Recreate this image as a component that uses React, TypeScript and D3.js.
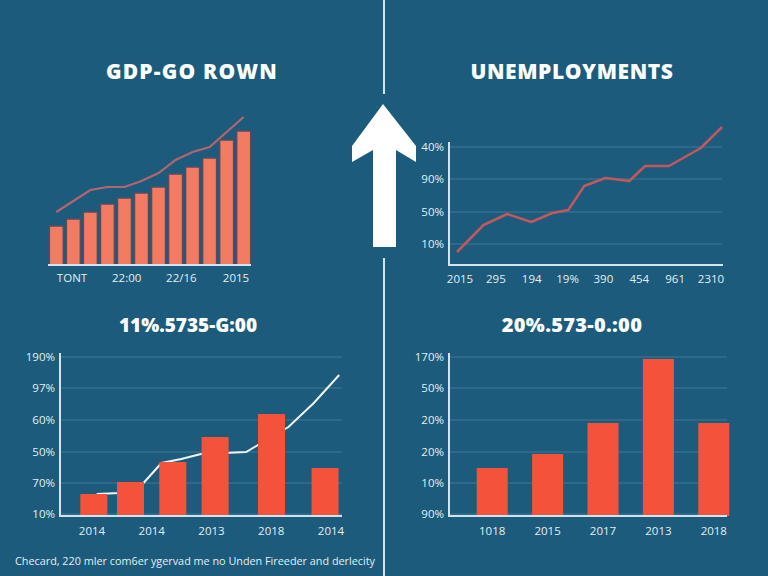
import React from "react";
import * as d3 from "d3";

// GDP panel (top left)
const gdpBars = [39, 46, 53, 61, 67, 72, 78, 91, 98, 107, 125, 134];
const gdpLine = [53, 64, 75, 78, 78, 84, 92, 105, 113, 118, 133, 148];
const gdpLabels = ["TONT", "22:00", "22/16", "2015"];

// Unemployment panel (top right)
const unempT = [0, 10, 19, 28, 36, 42, 48, 56, 65, 71, 80, 86, 92, 100];
const unempV = [13, 40, 51, 43, 52, 55, 79, 87, 84, 99, 99, 108, 117, 138];
const unempTicks = [21, 53, 86, 118];
const unempTickLabels = ["10%", "50%", "90%", "40%"];
const unempLabels = ["2015", "295", "194", "19%", "390", "454", "961", "2310"];

// Bottom left panel
const rateBarT = [12, 25, 40, 55, 75, 94];
const rateBarV = [22, 34, 54, 79, 102, 48];
const rateLineT = [13, 21, 28, 36, 43, 50, 66, 72, 81, 90, 99];
const rateLineV = [22, 23, 28, 53, 57, 62, 64, 74, 89, 113, 141];
const rateLabels = ["2014", "2014", "2013", "2018", "2014"];
const rateTicks = [2, 33, 64, 96, 128, 159];
const rateTickLabels = ["10%", "70%", "50%", "60%", "97%", "190%"];

// Bottom right panel
const rightBarLabels = ["1018", "2015", "2017", "2013", "2018"];
const rightBarV = [48, 62, 93, 157, 93];
const rightTickLabels = ["90%", "10%", "20%", "20%", "50%", "170%"];

const caption =
  "Checard, 220 mler com6er ygervad me no Unden Fireeder and derlecity";

const BG = "#1c5b7b";
const AXIS = "#cfe4ee";
const GRID = "rgba(200,228,240,0.22)";
const TEXT = "#e2eff5";
const FONT = "'Open Sans', 'Liberation Sans', sans-serif";

const Title = ({
  x,
  y,
  text,
  size = 20,
  spacing = 0,
}: {
  x: number;
  y: number;
  text: string;
  size?: number;
  spacing?: number;
}) => (
  <text
    x={x}
    y={y}
    textAnchor="middle"
    fill="#ffffff"
    fontFamily={FONT}
    fontWeight={800}
    fontSize={size}
    letterSpacing={spacing}
  >
    {text}
  </text>
);

const tickStyle = {
  fill: TEXT,
  fontFamily: FONT,
  fontSize: 11.5,
};

export default function App() {
  // --- top left
  const gx = d3
    .scaleBand<number>()
    .domain(d3.range(gdpBars.length))
    .range([49, 251])
    .paddingInner(0.18)
    .paddingOuter(0.02);
  const gy = d3.scaleLinear().domain([0, 150]).range([265, 115]);
  const gLine = d3
    .line<number>()
    .x((_, i) => (gx(i) as number) + gx.bandwidth() / 2)
    .y((d) => gy(d));
  const gLab = d3.scalePoint<string>().domain(gdpLabels).range([72, 236]);

  // --- top right
  const ux = d3.scaleLinear().domain([0, 100]).range([457, 722]);
  const uy = d3.scaleLinear().domain([0, 125]).range([265, 140]);
  const uLine = d3
    .line<number>()
    .x((_, i) => ux(unempT[i]))
    .y((d) => uy(d));
  const uLab = d3.scalePoint<string>().domain(unempLabels).range([460, 711]);

  // --- bottom left
  const rx = d3.scaleLinear().domain([0, 100]).range([60, 342]);
  const ry = d3.scaleLinear().domain([0, 165]).range([516, 351]);
  const rLine = d3
    .line<number>()
    .x((_, i) => rx(rateLineT[i]))
    .y((d) => ry(d));
  const rLab = d3
    .scalePoint<number>()
    .domain(d3.range(rateLabels.length))
    .range([92, 331]);
  const rBarW = 27;

  // --- bottom right
  const bx = d3
    .scaleBand<number>()
    .domain(d3.range(rightBarLabels.length))
    .range([449, 757])
    .paddingInner(0.44)
    .paddingOuter(0.5);

  return (
    <svg
      width={768}
      height={576}
      style={{ position: "fixed", left: 0, top: 0 }}
    >
      <rect width={768} height={576} fill={BG} />

      {/* centre divider and arrow */}
      <line x1={384} x2={384} y1={0} y2={94} stroke={AXIS} strokeWidth={2} />
      <line x1={384} x2={384} y1={258} y2={576} stroke={AXIS} strokeWidth={2} />
      <path
        d="M383,104 L416,146 L416,162 L396,150 L396,247 L373,247 L373,150 L352,162 L352,146 Z"
        fill="#ffffff"
      />

      {/* top left: GDP */}
      <Title x={192} y={79} text="GDP-GO ROWN" size={21} spacing={1.2} />
      {gdpBars.map((v, i) => (
        <rect
          key={i}
          x={gx(i)}
          y={gy(v)}
          width={gx.bandwidth()}
          height={gy(0) - gy(v)}
          fill="#f27b62"
          stroke="#574d5e"
          strokeWidth={1.5}
        />
      ))}
      <path
        d={gLine(gdpLine) || ""}
        fill="none"
        stroke="#b4656f"
        strokeWidth={2.2}
      />
      <line x1={48} x2={251} y1={265} y2={265} stroke={AXIS} strokeWidth={2} />
      {gdpLabels.map((l) => (
        <text key={l} x={gLab(l)} y={282} textAnchor="middle" style={tickStyle}>
          {l}
        </text>
      ))}

      {/* top right: unemployment */}
      <Title x={572} y={79} text="UNEMPLOYMENTS" size={21} spacing={0.6} />
      {unempTicks.map((t, i) => (
        <g key={t}>
          <line x1={449} x2={722} y1={uy(t)} y2={uy(t)} stroke={GRID} />
          <text x={444} y={uy(t) + 4} textAnchor="end" style={tickStyle}>
            {unempTickLabels[i]}
          </text>
        </g>
      ))}
      <line x1={449} x2={449} y1={142} y2={266} stroke={AXIS} strokeWidth={2} />
      <line x1={448} x2={723} y1={265} y2={265} stroke={AXIS} strokeWidth={2} />
      <path
        d={uLine(unempV) || ""}
        fill="none"
        stroke="#c2585e"
        strokeWidth={2.5}
        strokeLinejoin="round"
      />
      {unempLabels.map((l) => (
        <text key={l} x={uLab(l)} y={283} textAnchor="middle" style={tickStyle}>
          {l}
        </text>
      ))}

      {/* bottom left */}
      <Title x={188} y={332} text="11%.5735-G:00" size={19} />
      {rateTicks.map((t, i) => (
        <g key={t}>
          <line x1={60} x2={342} y1={ry(t)} y2={ry(t)} stroke={GRID} />
          <text x={55} y={ry(t) + 4} textAnchor="end" style={tickStyle}>
            {rateTickLabels[i]}
          </text>
        </g>
      ))}
      <path
        d={rLine(rateLineV) || ""}
        fill="none"
        stroke="#eef6f9"
        strokeWidth={2}
      />
      {rateBarV.map((v, i) => (
        <rect
          key={i}
          x={rx(rateBarT[i]) - rBarW / 2}
          y={ry(v)}
          width={rBarW}
          height={ry(0) - ry(v)}
          fill="#f4523b"
        />
      ))}
      <line x1={60} x2={60} y1={353} y2={517} stroke={AXIS} strokeWidth={2} />
      <line x1={59} x2={342} y1={516} y2={516} stroke={AXIS} strokeWidth={2} />
      {rateLabels.map((l, i) => (
        <text key={i} x={rLab(i)} y={535} textAnchor="middle" style={tickStyle}>
          {l}
        </text>
      ))}

      {/* bottom right */}
      <Title x={572} y={332} text="20%.573-0.:00" size={20} spacing={0.3} />
      {rateTicks.map((t, i) => (
        <g key={t}>
          <line x1={449} x2={727} y1={ry(t)} y2={ry(t)} stroke={GRID} />
          <text x={444} y={ry(t) + 4} textAnchor="end" style={tickStyle}>
            {rightTickLabels[i]}
          </text>
        </g>
      ))}
      {rightBarV.map((v, i) => (
        <rect
          key={i}
          x={bx(i)}
          y={ry(v)}
          width={bx.bandwidth()}
          height={ry(0) - ry(v)}
          fill="#f4523b"
        />
      ))}
      <line x1={449} x2={449} y1={353} y2={517} stroke={AXIS} strokeWidth={2} />
      <line x1={448} x2={727} y1={516} y2={516} stroke={AXIS} strokeWidth={2} />
      {rightBarLabels.map((l, i) => (
        <text
          key={i}
          x={(bx(i) as number) + bx.bandwidth() / 2}
          y={535}
          textAnchor="middle"
          style={tickStyle}
        >
          {l}
        </text>
      ))}

      {/* caption */}
      <text
        x={15}
        y={565}
        style={{ ...tickStyle, fontSize: 11.5 }}
        textLength={360}
        lengthAdjust="spacingAndGlyphs"
      >
        {caption}
      </text>
    </svg>
  );
}
